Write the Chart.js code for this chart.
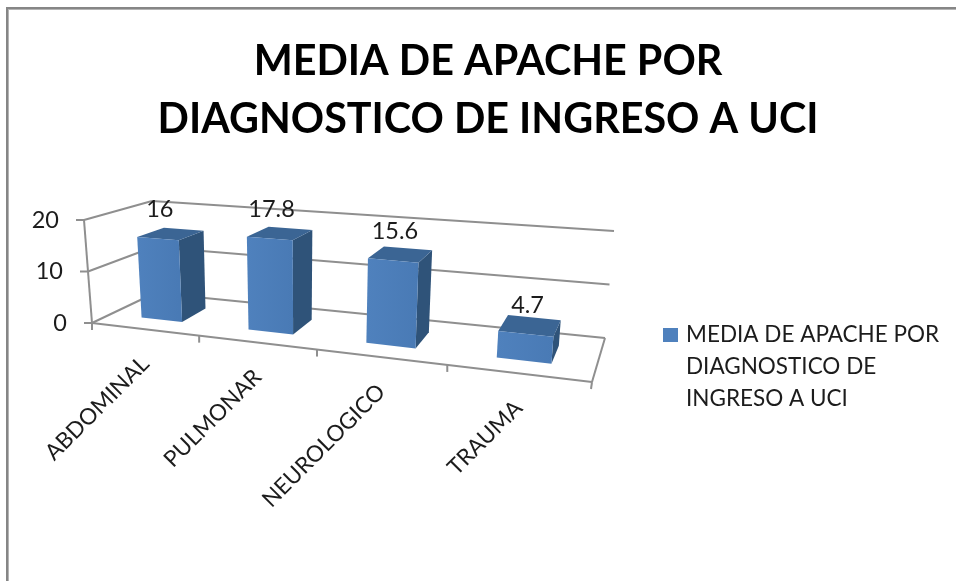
<!DOCTYPE html>
<html><head><meta charset="utf-8">
<script src="https://cdn.jsdelivr.net/npm/chart.js@4"></script>
<style>
html,body{margin:0;padding:0;background:#fff;overflow:hidden;width:956px;height:581px}
#wrap{position:absolute;left:0;top:0;width:956px;height:581px;overflow:hidden}
#frame{position:absolute;left:6px;top:7px;width:960px;height:600px;border:2px solid #868686;box-shadow:inset 1px 1px 0 #b4b4b4;box-sizing:border-box}
canvas{position:absolute;left:0;top:0}
</style></head><body>
<div id="wrap"><div id="frame"></div><canvas id="c" width="976" height="581"></canvas></div>
<script>
const categories = ['ABDOMINAL','PULMONAR','NEUROLOGICO','TRAUMA'];
const seriesName = 'MEDIA DE APACHE POR DIAGNOSTICO DE INGRESO A UCI';
const seriesValues = [16, 17.8, 15.6, 4.7];
const titleLines = ['MEDIA DE APACHE POR','DIAGNOSTICO DE INGRESO A UCI'];
const legendLines = ['MEDIA DE APACHE POR','DIAGNOSTICO DE','INGRESO A UCI'];
const valueLabels = ['16','17.8','15.6','4.7'];

const FONT = 'Lato';
const GRID = '#8f8f8f';
const TXT = '#1c1c1c';
// box corners [depth 0/1][height 0/1][left/right]
const C = {
  f0:[[92,323],[592,382]], b0:[[155,293],[605,338]],
  f1:[[84,220],[602,262]], b1:[[152,201],[614,231]]
};
const K = 1.222, V0 = 0.30, V1 = 0.72;
const warp = u => u/(u+K*(1-u));
const mix = (a,b,t)=>[a[0]+(b[0]-a[0])*t,a[1]+(b[1]-a[1])*t];
function P(u,v,w){
  const f = warp(u);
  const a = mix(mix(C.f0[0],C.f0[1],f),mix(C.b0[0],C.b0[1],f),v);
  const b = mix(mix(C.f1[0],C.f1[1],f),mix(C.b1[0],C.b1[1],f),v);
  return mix(a,b,w);
}
function poly(ctx,pts,fill){
  ctx.beginPath();pts.forEach((p,i)=>i?ctx.lineTo(p[0],p[1]):ctx.moveTo(p[0],p[1]));
  ctx.closePath();ctx.fillStyle=fill;ctx.fill();
}
function line(ctx,a,b){ctx.beginPath();ctx.moveTo(a[0],a[1]);ctx.lineTo(b[0],b[1]);ctx.stroke();}

const box3d = {
  id:'box3d',
  beforeDatasetsDraw(chart){
    const ctx=chart.ctx,ys=chart.scales.y,xs=chart.scales.x,A=chart.chartArea;
    const W=p=>(A.bottom-p)/(A.bottom-A.top);
    ctx.save();ctx.strokeStyle=GRID;ctx.lineWidth=2;ctx.lineCap='butt';
    ys.ticks.forEach(t=>{
      const w=W(ys.getPixelForValue(t.value));
      const a=P(0,0,w),b=P(0,1,w),c=P(1,1,w);
      line(ctx,[a[0]-8,a[1]],a);
      line(ctx,a,b);line(ctx,b,c);
    });
    line(ctx,P(0,0,0),P(0,0,1));
    line(ctx,P(0,0,0),P(1,0,0));
    line(ctx,P(1,0,0),P(1,1,0));
    for(let i=0;i<=categories.length;i++){
      const p=P(i/categories.length,0,0);
      line(ctx,p,[p[0]-(i===categories.length?1:0),p[1]+7]);
    }
    ctx.fillStyle=TXT;ctx.font='23.5px '+FONT;ctx.textAlign='right';ctx.textBaseline='middle';
    ys.ticks.forEach(t=>{
      const p=P(0,0,W(ys.getPixelForValue(t.value)));
      ctx.fillText(String(t.value),p[0]-25,p[1]);
    });
    ctx.font='22.5px '+FONT;
    xs.ticks.forEach((t,i)=>{
      const cx=(xs.getPixelForValue(t.value)-A.left)/(A.right-A.left);
      const p=P(cx,0,0);
      ctx.save();ctx.translate(p[0]+1,p[1]+31);ctx.rotate(-Math.PI/4);
      ctx.fillText(categories[i],0,0);ctx.restore();
    });
    ctx.restore();
  },
  beforeDatasetDraw(chart,args){
    const ctx=chart.ctx,A=chart.chartArea,meta=args.meta;
    const U=x=>(x-A.left)/(A.right-A.left),W=p=>(A.bottom-p)/(A.bottom-A.top);
    meta.data.forEach((bar,i)=>{
      const r=bar.getProps(['x','y','base','width'],true);
      const u0=U(r.x-r.width/2),u1=U(r.x+r.width/2),w1=W(r.y),w0=W(r.base);
      const fb0=P(u0,V0,w0),fb1=P(u1,V0,w0),ft0=P(u0,V0,w1),ft1=P(u1,V0,w1);
      const bb1=P(u1,V1,w0),bt0=P(u0,V1,w1),bt1=P(u1,V1,w1);
      poly(ctx,[fb1,bb1,bt1,ft1],'#2f5379');
      poly(ctx,[ft0,bt0,bt1,ft1],'#3b6594');
      const g=ctx.createLinearGradient(ft0[0],0,ft1[0],0);
      g.addColorStop(0,'#4f81bd');g.addColorStop(1,'#497ab5');
      poly(ctx,[fb0,fb1,ft1,ft0],g);
    });
    return false;
  },
  afterDatasetsDraw(chart){
    const ctx=chart.ctx,A=chart.chartArea,meta=chart.getDatasetMeta(0);
    ctx.save();ctx.fillStyle=TXT;ctx.font='23.5px '+FONT;ctx.textAlign='center';ctx.textBaseline='middle';
    meta.data.forEach((bar,i)=>{
      const r=bar.getProps(['x','y'],true);
      const p=P((r.x-A.left)/(A.right-A.left),V0,(A.bottom-r.y)/(A.bottom-A.top));
      ctx.fillText(valueLabels[i],p[0]+2,p[1]-29);
    });
    // legend
    ctx.fillStyle='#4f81bd';ctx.fillRect(663,328,15,14);
    ctx.fillStyle=TXT;ctx.font='22.5px '+FONT;ctx.textAlign='left';
    legendLines.forEach((s,i)=>ctx.fillText(s,686,335+32*i));
    ctx.restore();
  }
};

new Chart(document.getElementById('c'),{
  type:'bar',
  data:{labels:categories,datasets:[{label:seriesName,data:seriesValues,backgroundColor:'#4f81bd',barPercentage:0.39,categoryPercentage:1}]},
  options:{
    responsive:false,animation:false,
    layout:{padding:{left:92,right:92,bottom:258,top:0}},
    plugins:{
      legend:{display:false},tooltip:{enabled:false},
      title:{display:true,text:titleLines,color:'#000',font:{family:FONT,size:41.3,weight:'bold',lineHeight:1.4},padding:{top:33,bottom:50}}
    },
    scales:{
      x:{display:false},
      y:{display:false,min:0,max:20,ticks:{stepSize:10}}
    }
  },
  plugins:[box3d]
});
</script></body></html>
